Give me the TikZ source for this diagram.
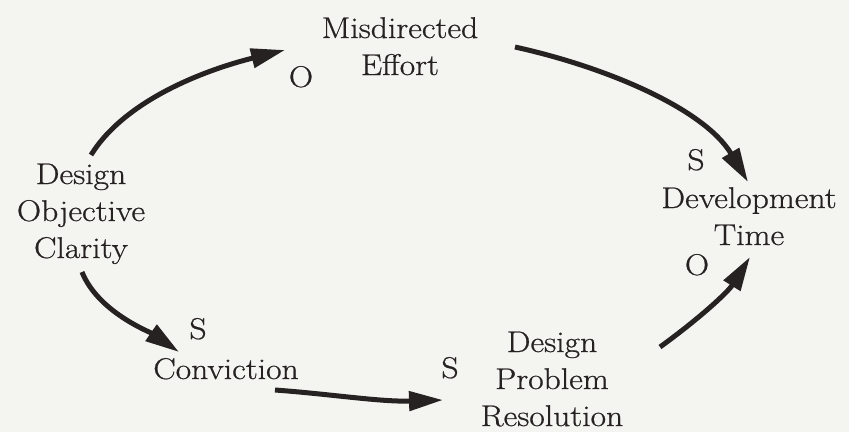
\documentclass[tikz,border=0pt]{standalone}
\usepackage{fontspec}
\setmainfont{Latin Modern Roman}[FakeStretch=1.12,FakeBold=0.7]
\usetikzlibrary{arrows.meta}
\definecolor{ink}{RGB}{38,34,34}
\definecolor{paper}{RGB}{244,244,240}
\begin{document}
\begin{tikzpicture}[x=1pt,y=-1pt,
  lbl/.style={inner sep=0pt,anchor=base,align=center,text=ink,font=\fontsize{30}{37}\selectfont},
  pol/.style={inner sep=0pt,anchor=base,text=ink,font=\fontsize{30}{37}\selectfont},
  link/.style={draw=ink,line width=5pt,-{Triangle[length=34pt,width=19pt]}}]
\fill[paper] (0,0) rectangle (849,432);
\useasboundingbox (0,0) rectangle (849,432);
\node[lbl] (mis) at (400,75) {Misdirected\\Effort};
\node[lbl] (dev) at (749,245) {Development\\Time};
\node[lbl] (clar) at (81,258) {Design\\Objective\\Clarity};
\node[lbl] (conv) at (226,379) {Conviction};
\node[lbl] (dpr) at (552,426) {Design\\Problem\\Resolution};
\node[pol] (o1) at (301,87) {O};
\node[pol] (s1) at (696,170) {S};
\node[pol] (s2) at (198,339) {S};
\node[pol] (s3) at (450,378) {S};
\node[pol] (o2) at (697,275) {O};
\draw[link] ([shift={(10,-103)}]clar.base) .. controls (125,100) and (205,70) .. ([shift={(-115,-25)}]mis.base);
\draw[link] ([shift={(115,-28)}]mis.base) .. controls (610,68) and (705,110) .. ([shift={(-1,-63)}]dev.base);
\draw[link] ([shift={(1,14)}]clar.base) .. controls (98,312) and (150,332) .. ([shift={(-47,-27)}]conv.base);
\draw[link] ([shift={(49,11)}]conv.base) .. controls (330,394) and (380,402) .. ([shift={(-109,-26)}]dpr.base);
\draw[link] ([shift={(108,-79)}]dpr.base) .. controls (700,318) and (728,292) .. ([shift={(1,12)}]dev.base);
\end{tikzpicture}
\end{document}
